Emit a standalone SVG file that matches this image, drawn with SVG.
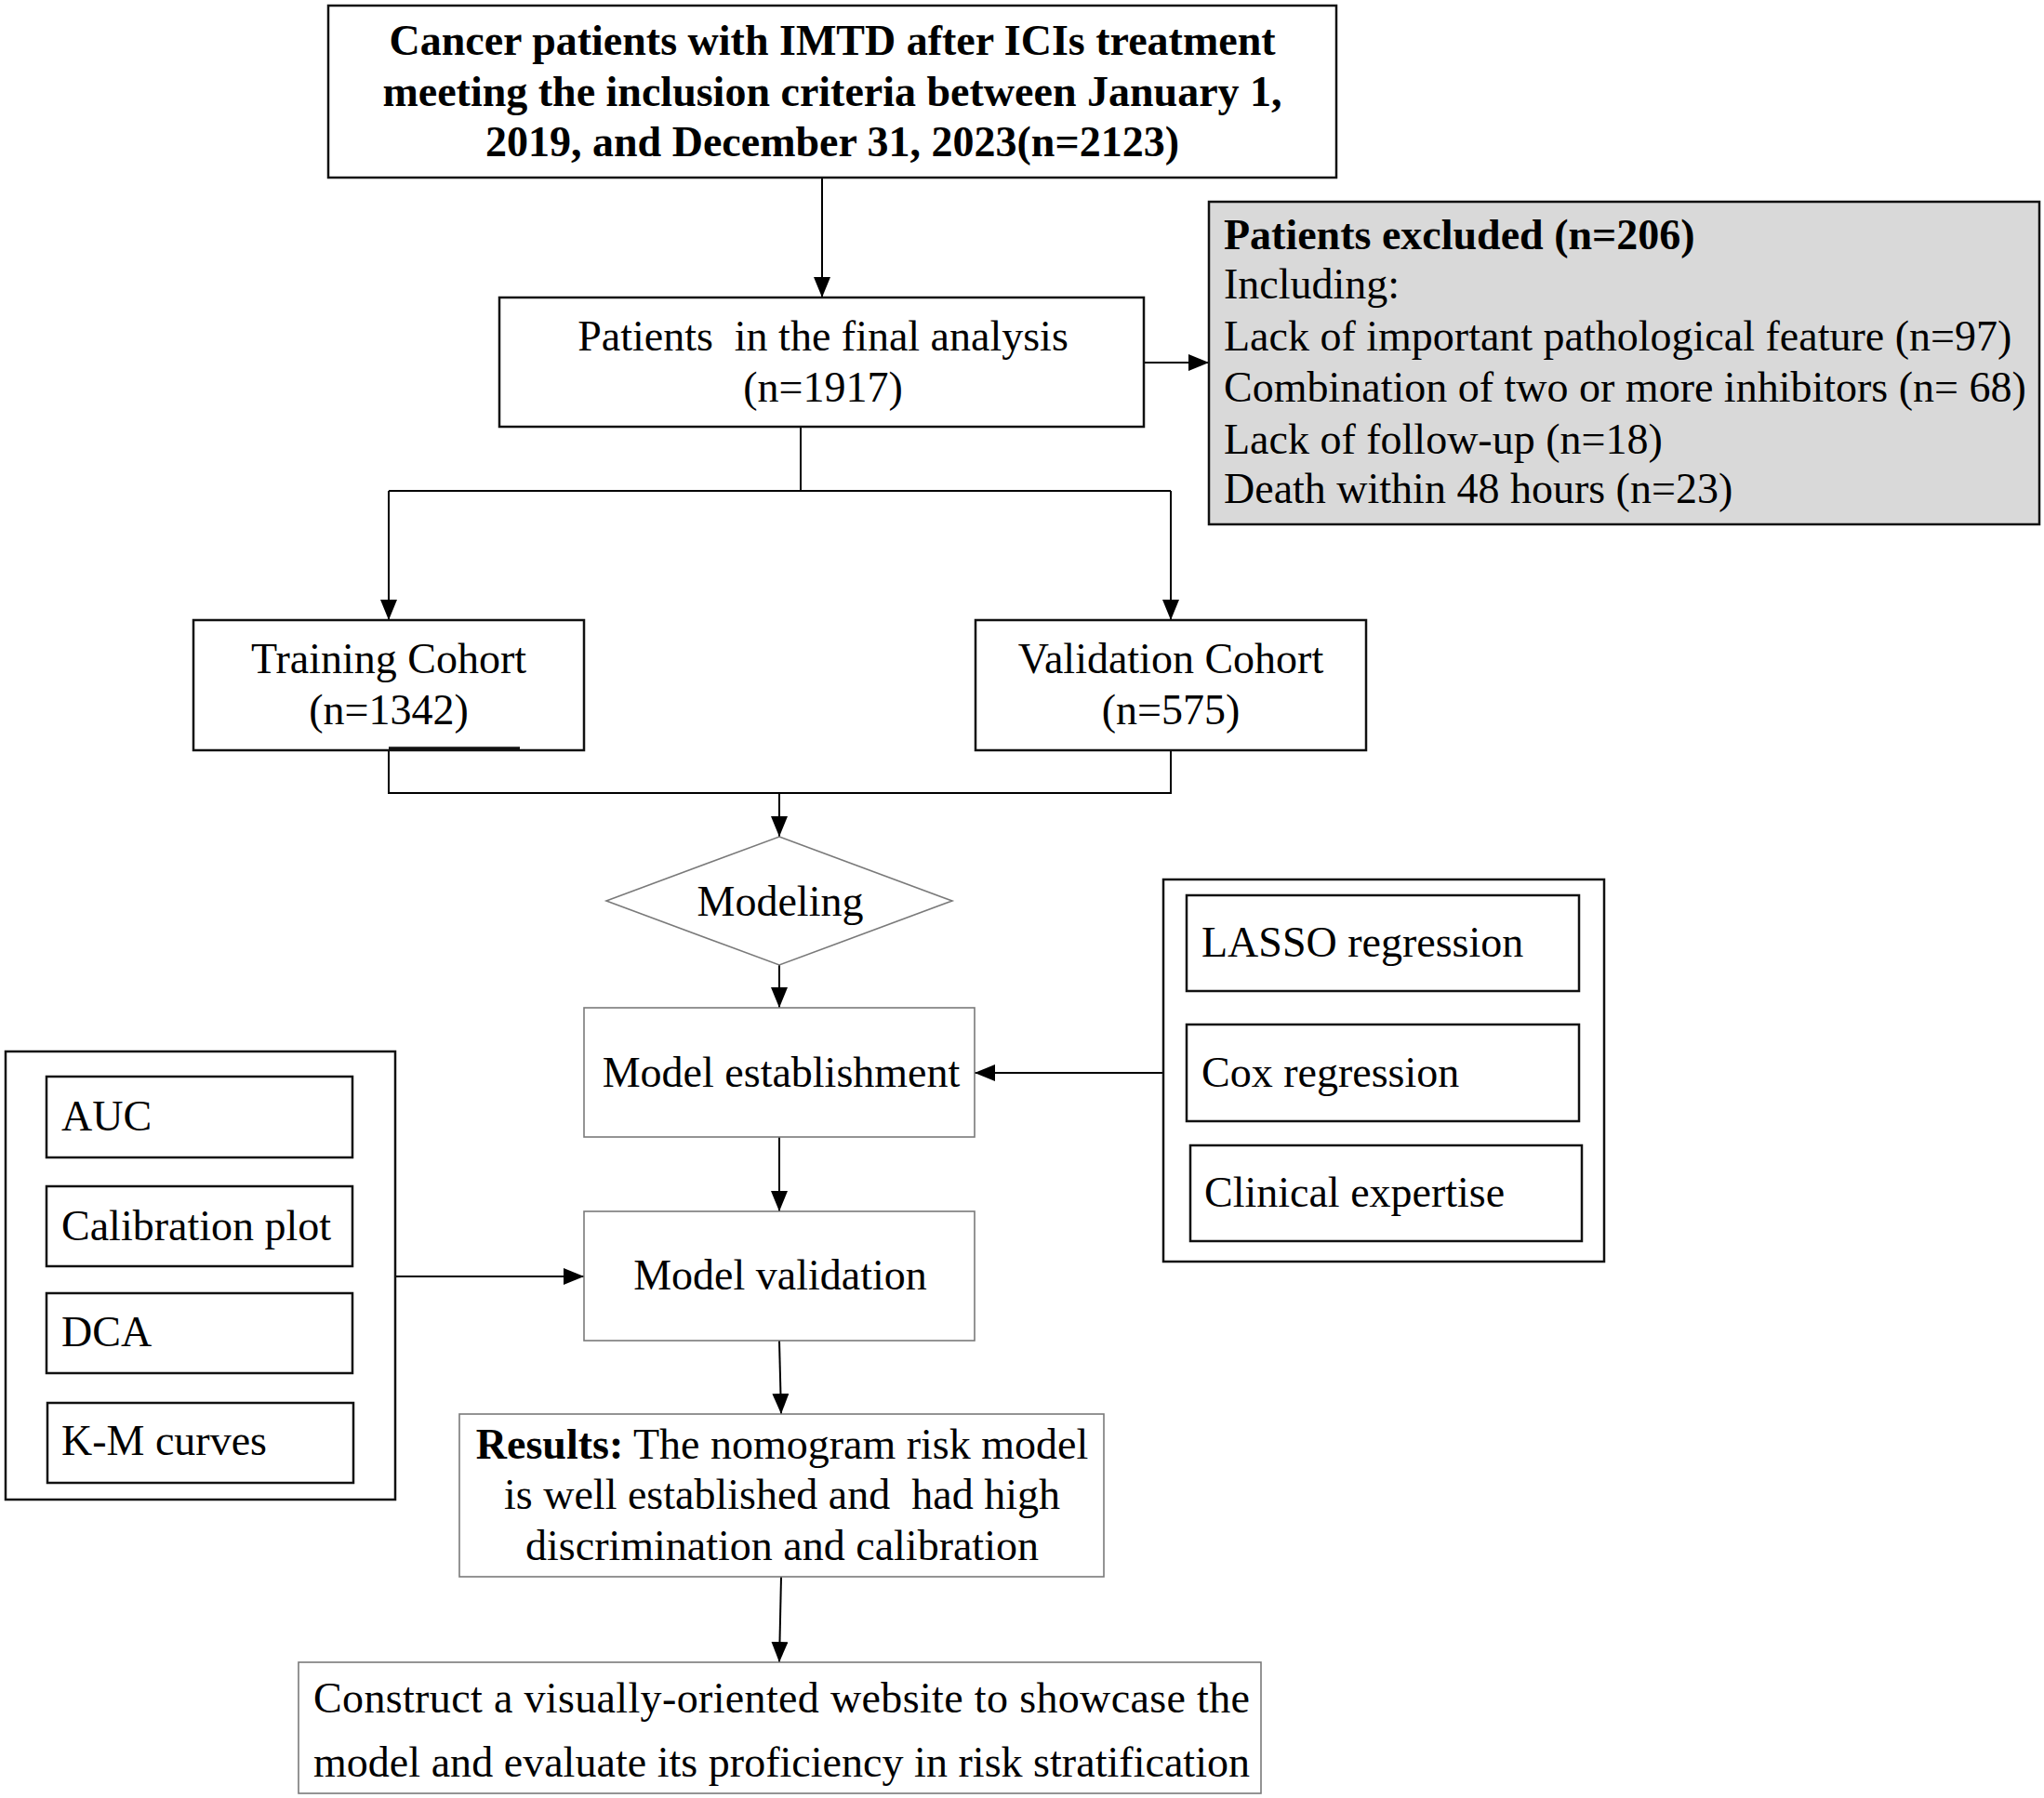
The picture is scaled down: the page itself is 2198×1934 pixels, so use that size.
<svg xmlns="http://www.w3.org/2000/svg" width="2198" height="1934" viewBox="0 0 2198 1934">
<defs>
<style>
text{font-family:"Liberation Serif","Times New Roman",serif;font-size:46px;fill:#000}
.b{font-weight:bold}
.c{text-anchor:middle}
.box{fill:#fff;stroke:#111;stroke-width:2.5}
.thin{fill:#fff;stroke:#7a7a7a;stroke-width:1.6}
.gray{fill:#d9d9d9;stroke:#111;stroke-width:2.5}
.ln{fill:none;stroke:#000;stroke-width:2}
.arr{fill:none;stroke:#000;stroke-width:2;marker-end:url(#ah)}
</style>
<marker id="ah" markerUnits="userSpaceOnUse" markerWidth="22" markerHeight="18" refX="22" refY="9" orient="auto">
<path d="M0,0 L22,9 L0,18 Z" fill="#000"/>
</marker>
</defs>
<rect width="2198" height="1934" fill="#fff"/>

<g id="connectors">
<line class="arr" x1="884" y1="191" x2="884" y2="320"/>
<line class="arr" x1="1230" y1="390" x2="1300" y2="390"/>
<polyline class="ln" points="861,459 861,528"/>
<line class="ln" x1="418" y1="528" x2="1259" y2="528"/>
<line class="arr" x1="418" y1="528" x2="418" y2="667"/>
<line class="arr" x1="1259" y1="528" x2="1259" y2="667"/>
<polyline class="ln" points="418,807 418,853 1259,853 1259,807"/>
<line class="arr" x1="838" y1="853" x2="838" y2="900"/>
<line class="arr" x1="838" y1="1038" x2="838" y2="1084"/>
<line class="arr" x1="838" y1="1223" x2="838" y2="1303"/>
<line class="arr" x1="1251" y1="1154" x2="1048" y2="1154"/>
<line class="arr" x1="425" y1="1373" x2="628" y2="1373"/>
<line class="arr" x1="838" y1="1442" x2="840" y2="1521"/>
<line class="arr" x1="840" y1="1696" x2="838" y2="1788"/>
</g>

<g id="start">
<rect class="box" x="353" y="6" width="1084" height="185"/>
<text class="b c" x="895" y="59">Cancer patients with IMTD after ICIs treatment</text>
<text class="b c" x="895" y="114">meeting the inclusion criteria between January 1,</text>
<text class="b c" x="895" y="168">2019, and December 31, 2023(n=2123)</text>
</g>

<g id="final">
<rect class="box" x="537" y="320" width="693" height="139"/>
<text class="c" x="885" y="377" xml:space="preserve">Patients  in the final analysis</text>
<text class="c" x="885" y="432">(n=1917)</text>
</g>

<g id="excluded">
<rect class="gray" x="1300" y="217" width="893" height="347"/>
<text class="b" x="1316" y="268">Patients excluded (n=206)</text>
<text x="1316" y="321">Including:</text>
<text x="1316" y="377">Lack of important pathological feature (n=97)</text>
<text x="1316" y="432">Combination of two or more inhibitors (n= 68)</text>
<text x="1316" y="488">Lack of follow-up (n=18)</text>
<text x="1316" y="541">Death within 48 hours (n=23)</text>
</g>

<g id="training">
<rect class="box" x="208" y="667" width="420" height="140"/>
<text class="c" x="418" y="724">Training Cohort</text>
<text class="c" x="418" y="779">(n=1342)</text>
<line x1="418" y1="805" x2="559" y2="805" stroke="#111" stroke-width="3.5"/>
</g>

<g id="validation">
<rect class="box" x="1049" y="667" width="420" height="140"/>
<text class="c" x="1259" y="724">Validation Cohort</text>
<text class="c" x="1259" y="779">(n=575)</text>
</g>

<g id="modeling">
<polygon class="thin" points="838,900 1024,969 838,1038 652,969"/>
<text class="c" x="839" y="985">Modeling</text>
</g>

<g id="establishment">
<rect class="thin" x="628" y="1084" width="420" height="139"/>
<text class="c" x="840" y="1169">Model establishment</text>
</g>

<g id="methods">
<rect class="box" x="1251" y="946" width="474" height="411"/>
<rect class="box" x="1276" y="963" width="422" height="103"/>
<text x="1292" y="1029">LASSO regression</text>
<rect class="box" x="1276" y="1102" width="422" height="104"/>
<text x="1292" y="1169">Cox regression</text>
<rect class="box" x="1280" y="1232" width="421" height="103"/>
<text x="1295" y="1298">Clinical expertise</text>
</g>

<g id="metrics">
<rect class="box" x="6" y="1131" width="419" height="482"/>
<rect class="box" x="50" y="1158" width="329" height="87"/>
<text x="66" y="1216">AUC</text>
<rect class="box" x="50" y="1276" width="329" height="86"/>
<text x="66" y="1334">Calibration plot</text>
<rect class="box" x="50" y="1391" width="329" height="86"/>
<text x="66" y="1448">DCA</text>
<rect class="box" x="51" y="1509" width="329" height="86"/>
<text x="66" y="1565">K-M curves</text>
</g>

<g id="model-validation">
<rect class="thin" x="628" y="1303" width="420" height="139"/>
<text class="c" x="839" y="1387">Model validation</text>
</g>

<g id="results">
<rect class="thin" x="494" y="1521" width="693" height="175"/>
<text class="c" x="841" y="1569"><tspan class="b">Results:</tspan> The nomogram risk model</text>
<text class="c" x="841" y="1623" xml:space="preserve">is well established and  had high</text>
<text class="c" x="841" y="1678">discrimination and calibration</text>
</g>

<g id="website">
<rect class="thin" x="321" y="1788" width="1035" height="141"/>
<text x="337" y="1842" textLength="1007" lengthAdjust="spacing">Construct a visually-oriented website to showcase the</text>
<text x="337" y="1911" textLength="1007" lengthAdjust="spacing">model and evaluate its proficiency in risk stratification</text>
</g>
</svg>
